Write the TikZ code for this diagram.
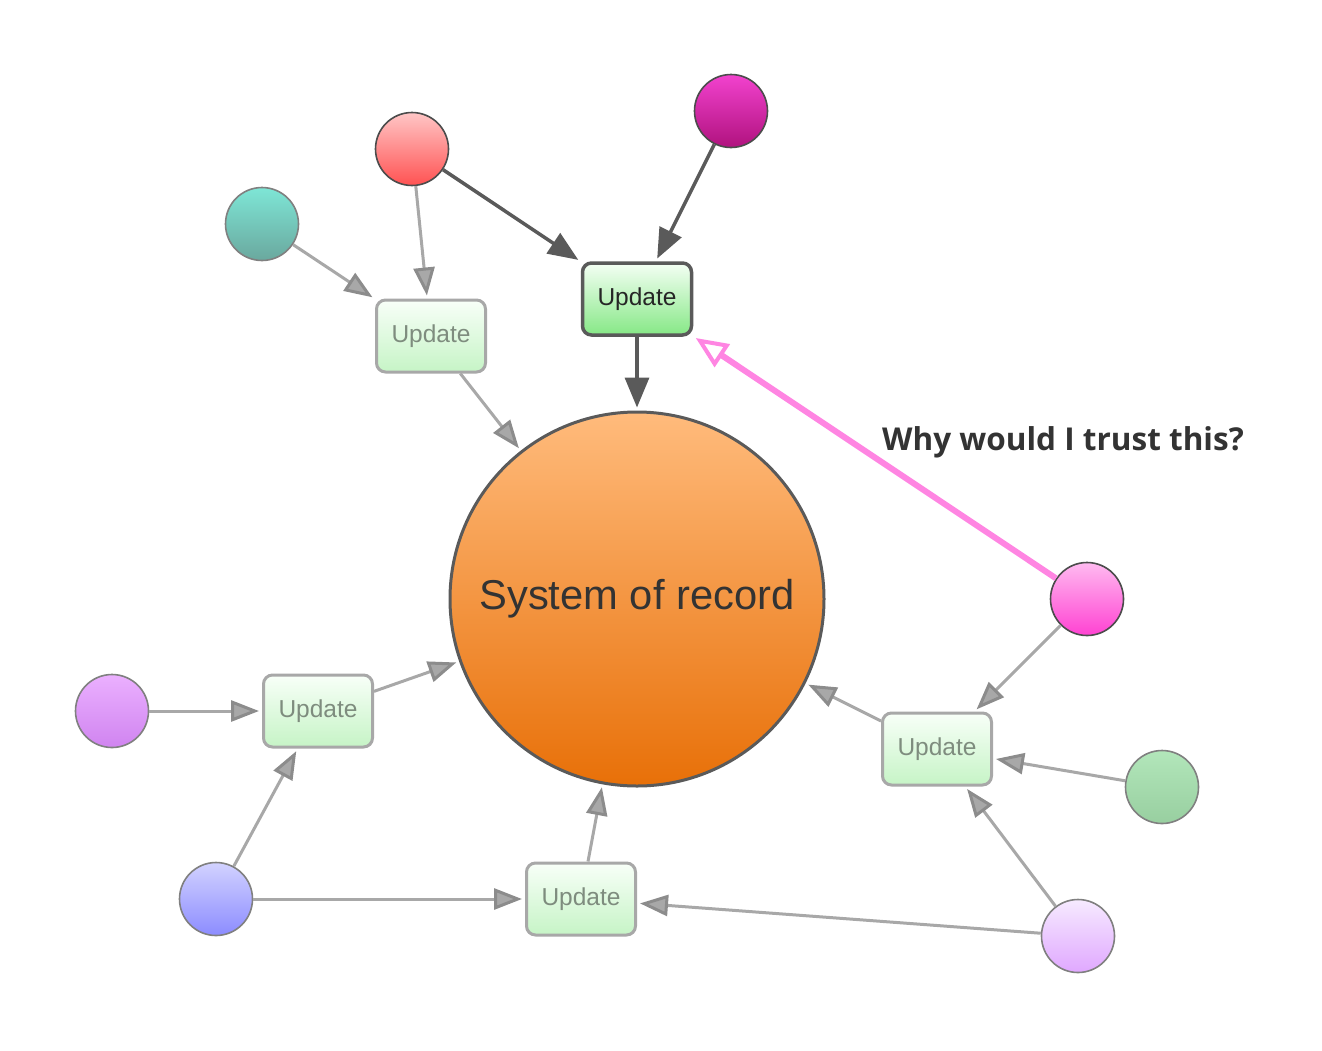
\documentclass[tikz,border=0pt]{standalone}
\usepackage{fontspec}
\setmainfont{Liberation Sans}
\newfontfamily\quotefont{Open Sans}
\usepackage{tikz}
\usetikzlibrary{arrows.meta}

\definecolor{linegray}{HTML}{A8A8A8}
\definecolor{tipgray}{HTML}{8C8C8C}
\definecolor{darkline}{HTML}{5A5A5A}
\definecolor{trustpink}{HTML}{FF85E2}
\definecolor{sortop}{HTML}{FFBB7C}
\definecolor{sorbot}{HTML}{E87008}
\definecolor{updtop}{HTML}{F8FFF8}
\definecolor{updbot}{HTML}{C6F4C6}
\definecolor{updtext}{HTML}{7E8C7E}
\definecolor{ontop}{HTML}{F4FFF4}
\definecolor{onbot}{HTML}{86E886}
\definecolor{redtop}{HTML}{FFC6C6}
\definecolor{redbot}{HTML}{FF5252}
\definecolor{magtop}{HTML}{F242CE}
\definecolor{magbot}{HTML}{B0127E}
\definecolor{tealtop}{HTML}{7EE6D6}
\definecolor{tealbot}{HTML}{6AA89E}
\definecolor{pinktop}{HTML}{FFBAF0}
\definecolor{pinkbot}{HTML}{FF42D2}
\definecolor{viotop}{HTML}{EBB0FF}
\definecolor{viobot}{HTML}{D084F0}
\definecolor{bluetop}{HTML}{D2D2FF}
\definecolor{bluebot}{HTML}{8C8CFF}
\definecolor{greentop}{HTML}{B2E6BA}
\definecolor{greenbot}{HTML}{98CFA0}
\definecolor{liltop}{HTML}{F6EAFF}
\definecolor{lilbot}{HTML}{E0A8FF}

\begin{document}
\begin{tikzpicture}[
  x=1pt, y=-1pt,
  src/.style n args={3}{circle, draw=#1, line width=1.6pt, minimum size=73pt, inner sep=0pt,
    top color=#2, bottom color=#3},
  upd/.style={draw=linegray, line width=3pt, rounded corners=9pt, minimum width=109pt, minimum height=72pt,
    top color=updtop, bottom color=updbot, text=updtext,
    font=\fontsize{24.5}{28}\selectfont},
  updon/.style={upd, draw=darkline, line width=3.5pt, top color=ontop, bottom color=onbot, text=black!85},
  arr/.style={linegray, line width=3pt, shorten >=3pt, -{Triangle[length=28pt, width=21pt, color=tipgray, fill=linegray]}},
  darr/.style={darkline, line width=3.5pt, shorten >=3pt, -{Triangle[length=30pt, width=24pt]}},
  parr/.style={trustpink, line width=6pt, shorten >=3pt, -{Triangle[open, length=32pt, width=27pt, line width=4pt]}}
]
\useasboundingbox (0,0) rectangle (1322,1050);

% system of record
\node[circle, draw=darkline, line width=3pt, minimum size=374pt, inner sep=0pt,
  top color=sortop, bottom color=sorbot,
  font=\fontsize{41.7}{48}\selectfont, text=black!80] (sor) at (637,599) {System of record};

% updates
\node[updon] (upmain) at (637,299) {Update};
\node[upd] (upleft) at (431,336) {Update};
\node[upd] (upwest) at (318,711) {Update};
\node[upd] (upsouth) at (581,899) {Update};
\node[upd] (upeast) at (937,749) {Update};

% sources
\node[src={black!70}{redtop}{redbot}] (red) at (412,149) {};
\node[src={black!70}{magtop}{magbot}] (magenta) at (731,111) {};
\node[src={gray}{tealtop}{tealbot}] (teal) at (262,224) {};
\node[src={black!70}{pinktop}{pinkbot}] (pink) at (1087,599) {};
\node[src={gray}{viotop}{viobot}] (violet) at (112,711) {};
\node[src={gray}{bluetop}{bluebot}] (blue) at (216,899) {};
\node[src={gray}{greentop}{greenbot}] (green) at (1162,787) {};
\node[src={gray}{liltop}{lilbot}] (lilac) at (1078,936) {};

\node[font=\quotefont\bfseries\fontsize{31.5}{36}\selectfont, text=black!80] (why) at (1063,442) {Why would I trust this?};

\draw[darr] (red) -- (upmain);
\draw[darr] (magenta) -- (upmain);
\draw[darr] (upmain) -- (sor);
\draw[arr] (red) -- (upleft);
\draw[arr] (teal) -- (upleft);
\draw[arr] (upleft) -- (sor);
\draw[parr] (pink) -- (upmain);
\draw[arr] (pink) -- (upeast);
\draw[arr] (green) -- (upeast);
\draw[arr] (lilac) -- (upeast);
\draw[arr] (upeast) -- (sor);
\draw[arr] (lilac) -- (upsouth);
\draw[arr] (blue) -- (upsouth);
\draw[arr] (upsouth) -- (sor);
\draw[arr] (violet) -- (upwest);
\draw[arr] (blue) -- (upwest);
\draw[arr] (upwest) -- (sor);
\end{tikzpicture}
\end{document}
